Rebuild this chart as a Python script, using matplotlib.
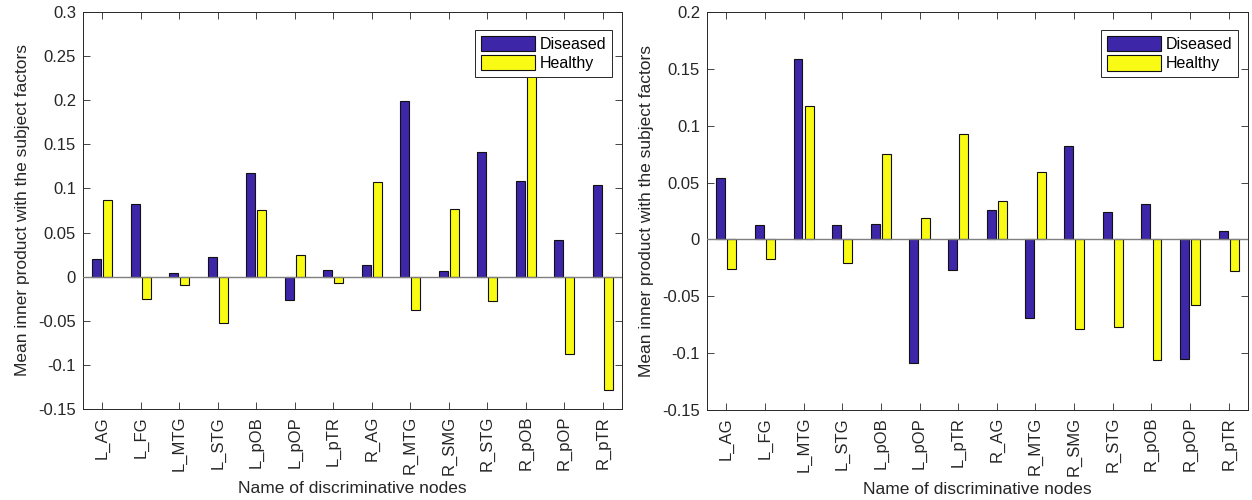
import numpy as np
import matplotlib
matplotlib.use("Agg")
import matplotlib.pyplot as plt

plt.rcParams['font.family'] = ['Liberation Sans', 'DejaVu Sans']

nodes = ["L_AG", "L_FG", "L_MTG", "L_STG", "L_pOB", "L_pOP", "L_pTR",
         "R_AG", "R_MTG", "R_SMG", "R_STG", "R_pOB", "R_pOP", "R_pTR"]

left_diseased = [0.020, 0.082, 0.004, 0.022, 0.118, -0.026, 0.007,
                 0.013, 0.199, 0.006, 0.141, 0.108, 0.041, 0.104]
left_healthy = [0.087, -0.025, -0.009, -0.052, 0.076, 0.025, -0.007,
                0.107, -0.038, 0.077, -0.028, 0.270, -0.088, -0.129]

right_diseased = [0.054, 0.013, 0.159, 0.013, 0.014, -0.109, -0.027,
                  0.026, -0.069, 0.082, 0.024, 0.031, -0.105, 0.007]
right_healthy = [-0.026, -0.017, 0.117, -0.021, 0.075, 0.019, 0.093,
                 0.034, 0.059, -0.079, -0.077, -0.106, -0.058, -0.028]

left_yticks = [-0.15, -0.1, -0.05, 0, 0.05, 0.1, 0.15, 0.2, 0.25, 0.3]
right_yticks = [-0.15, -0.1, -0.05, 0, 0.05, 0.1, 0.15, 0.2]

series_labels = ["Diseased", "Healthy"]
blue = "#3E26A8"
yellow = "#F9FB15"
axis_col = "#262626"

fig = plt.figure(figsize=(12.52, 5.0), dpi=100)
ax_l = fig.add_axes([83 / 1252, 91 / 500, 539 / 1252, 397 / 500])
ax_r = fig.add_axes([707 / 1252, 90 / 500, 541 / 1252, 398 / 500])


def tick_text(v):
    return f"{v:g}"


def draw(ax, dis, hea, yticks):
    x = np.arange(1, len(nodes) + 1)
    off = 0.145
    w = 0.23
    ax.bar(x - off, dis, w, color=blue, edgecolor="#111111", linewidth=0.8,
           label=series_labels[0], zorder=2)
    ax.bar(x + off, hea, w, color=yellow, edgecolor="#111111", linewidth=0.8,
           label=series_labels[1], zorder=2)
    ax.axhline(0, color="#7f7f7f", linewidth=1.0, zorder=3)
    ax.set_xlim(0.5, len(nodes) + 0.5)
    ax.set_ylim(yticks[0], yticks[-1])
    ax.set_xticks(x)
    ax.set_xticklabels(nodes, rotation=90, fontsize=12, color=axis_col)
    ax.set_yticks(yticks)
    ax.set_yticklabels([tick_text(v) for v in yticks], fontsize=12, color=axis_col)
    ax.tick_params(direction="in", top=True, right=True, length=5,
                   width=0.6, colors=axis_col, pad=5)
    for sp in ax.spines.values():
        sp.set_color(axis_col)
        sp.set_linewidth(0.7)
    ax.set_xlabel("Name of discriminative nodes", fontsize=12.5, color=axis_col)
    ax.set_ylabel("Mean inner product with the subject factors", fontsize=12.5,
                  color=axis_col, labelpad=6)
    leg = ax.legend(loc="upper right", bbox_to_anchor=(0.988, 0.962),
                    fontsize=11.5, frameon=True, fancybox=False,
                    handlelength=3.4, handleheight=1.1, handletextpad=0.3,
                    borderpad=0.35, labelspacing=0.2, borderaxespad=0.2)
    leg.get_frame().set_edgecolor(axis_col)
    leg.get_frame().set_linewidth(0.7)
    leg.get_frame().set_alpha(1.0)
    leg.set_zorder(5)


draw(ax_l, left_diseased, left_healthy, left_yticks)
draw(ax_r, right_diseased, right_healthy, right_yticks)

fig.savefig("out.png", dpi=100)
